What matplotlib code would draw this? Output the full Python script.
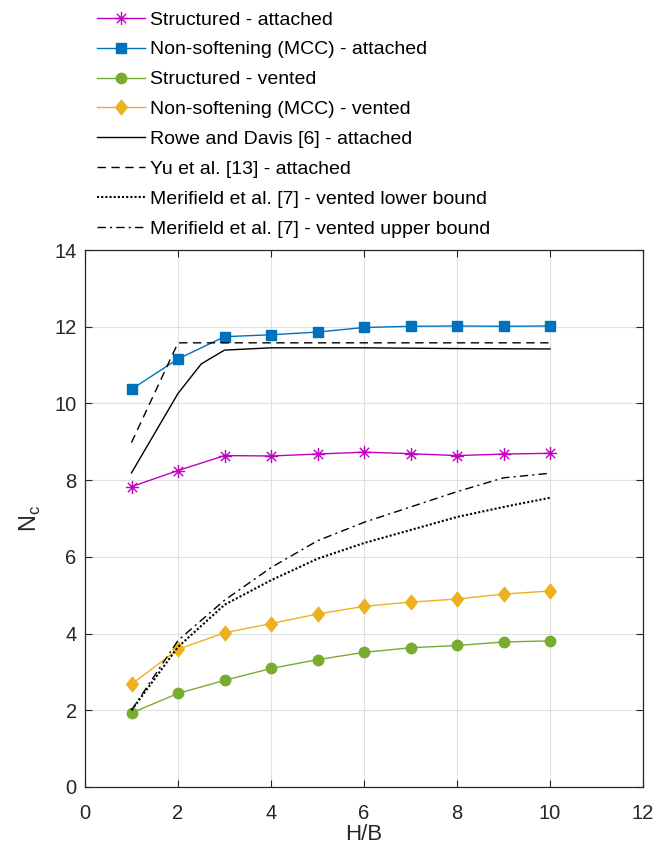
import matplotlib
matplotlib.use("Agg")
import matplotlib.pyplot as plt
from matplotlib.path import Path
import numpy as np

plt.rcParams['font.family'] = ['Liberation Sans', 'DejaVu Sans']
plt.rcParams['mathtext.fontset'] = 'custom'
plt.rcParams['mathtext.rm'] = 'Liberation Sans'

hb = [1, 2, 3, 4, 5, 6, 7, 8, 9, 10]
struct_att = [7.83, 8.25, 8.64, 8.63, 8.68, 8.73, 8.69, 8.64, 8.68, 8.70]
mcc_att = [10.37, 11.16, 11.74, 11.79, 11.86, 11.98, 12.01, 12.02, 12.01, 12.02]
struct_vent = [1.93, 2.44, 2.78, 3.09, 3.32, 3.51, 3.63, 3.69, 3.78, 3.81]
mcc_vent = [2.68, 3.59, 4.02, 4.26, 4.51, 4.71, 4.82, 4.90, 5.03, 5.11]

rowe_x = [1, 2, 2.5, 3, 4, 6, 8, 10]
rowe_y = [8.19, 10.26, 11.03, 11.39, 11.45, 11.45, 11.43, 11.42]

yu_x = [1, 2, 10]
yu_y = [8.98, 11.58, 11.58]

mer_lo = [2.0, 3.65, 4.75, 5.39, 5.95, 6.36, 6.70, 7.04, 7.30, 7.54]
mer_hi = [2.0, 3.82, 4.87, 5.72, 6.42, 6.90, 7.30, 7.70, 8.06, 8.18]

labels = ['Structured - attached', 'Non-softening (MCC) - attached',
          'Structured - vented', 'Non-softening (MCC) - vented',
          'Rowe and Davis [6] - attached', 'Yu et al. [13] - attached',
          'Merifield et al. [7] - vented lower bound',
          'Merifield et al. [7] - vented upper bound']

x_ticks = [0, 2, 4, 6, 8, 10, 12]
y_ticks = [0, 2, 4, 6, 8, 10, 12, 14]

# MATLAB-like asterisk marker (plus + cross)
d = np.sqrt(0.5)
ast_verts = [(0, -1), (0, 1), (-1, 0), (1, 0), (-d, -d), (d, d), (-d, d), (d, -d)]
ast_codes = [Path.MOVETO, Path.LINETO] * 4
asterisk = Path(ast_verts, ast_codes)

# MATLAB-like diamond
diamond = Path([(0, 1), (0.8, 0), (0, -1), (-0.8, 0), (0, 1)],
               [Path.MOVETO, Path.LINETO, Path.LINETO, Path.LINETO, Path.CLOSEPOLY])

fig = plt.figure(figsize=(6.6, 8.6), dpi=100)
ax = fig.add_axes([85/660, 1-787/860, (643-85)/660, (787-250)/860])

lw = 1.0
h = []
h += ax.plot(hb, struct_att, color='#BF00BF', marker=asterisk, markersize=9.5,
             markeredgewidth=1.0, lw=lw)
h += ax.plot(hb, mcc_att, color='#0072BD', marker='s', markersize=7, lw=lw)
h += ax.plot(hb, struct_vent, color='#77AC30', marker='o', markersize=7.5, lw=lw)
h += ax.plot(hb, mcc_vent, color='#EDB120', marker=diamond, markersize=10.5, lw=lw)
h += ax.plot(rowe_x, rowe_y, color='black', ls='-', lw=lw)
h += ax.plot(yu_x, yu_y, color='black', ls=(0, (6, 4)), lw=lw)
h += ax.plot(hb, mer_lo, color='black', ls=(0, (1, 1)), lw=1.5)
h += ax.plot(hb, mer_hi, color='black', ls=(0, (6, 3, 1.5, 3)), lw=lw)

ax.set_xlim(0, 12)
ax.set_ylim(0, 14)
ax.set_xticks(x_ticks)
ax.set_yticks(y_ticks)
ax.grid(True, color='#E0E0E0', lw=0.8)
ax.set_axisbelow(True)
ax.tick_params(direction='in', top=True, right=True, labelsize=14.5,
               colors='#262626', length=5, width=0.8)
ax.tick_params(axis='x', pad=12)
ax.tick_params(axis='y', pad=6)
for s in ax.spines.values():
    s.set_color('#262626')
    s.set_linewidth(0.9)
ax.set_xlabel('H/B', fontsize=16, color='#262626', labelpad=1)
ax.set_ylabel(r'N$_\mathregular{c}$', fontsize=17, color='#262626', labelpad=8)

fig.legend(h, labels, loc='upper left', bbox_to_anchor=(97/660, 1-11/860),
           frameon=False, fontsize=14, handlelength=2.45, handletextpad=0.3,
           labelspacing=0.63, borderpad=0, borderaxespad=0)

fig.savefig('out.png', dpi=100)
